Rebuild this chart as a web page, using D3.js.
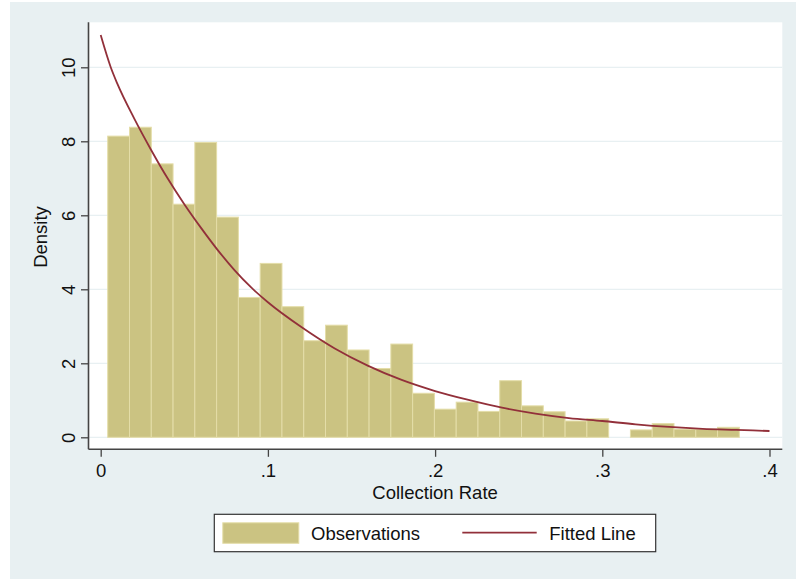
<!DOCTYPE html>
<html>
<head>
<meta charset="utf-8">
<script src="https://cdn.jsdelivr.net/npm/d3@7"></script>
<style>
  html, body { margin: 0; padding: 0; background: #ffffff; }
  svg { display: block; }
  text { font-family: "Liberation Sans", Arial, Helvetica, sans-serif; fill: #111; }
</style>
</head>
<body>
<svg id="chart" width="796" height="579"></svg>
<script>
// ---------- data ----------
const binStart = 0.0042;      // lower edge of first bin
const binWidth = 0.013026;    // bin width
const densities = [8.14, 8.38, 7.39, 6.30, 7.97, 5.95, 3.78, 4.70, 3.53, 2.61,
                   3.03, 2.36, 1.86, 2.52, 1.19, 0.76, 0.95, 0.70, 1.53, 0.85,
                   0.69, 0.44, 0.50, 0.00, 0.20, 0.37, 0.22, 0.22, 0.27];
const fitX = [0, 0.006, 0.01, 0.02, 0.03, 0.04, 0.05, 0.06, 0.07, 0.08, 0.09, 0.10,
              0.12, 0.14, 0.16, 0.18, 0.20, 0.22, 0.24, 0.26, 0.28, 0.30, 0.32,
              0.34, 0.36, 0.38, 0.40];
const fitY = [10.87, 10.0, 9.55, 8.62, 7.78, 7.0, 6.3, 5.66, 5.06, 4.52, 4.05, 3.65,
              2.98, 2.40, 1.93, 1.55, 1.25, 1.01, 0.80, 0.64, 0.52, 0.44, 0.35,
              0.28, 0.23, 0.20, 0.17];
const xTicks = [0, 0.1, 0.2, 0.3, 0.4];
const xTickLabels = ["0", ".1", ".2", ".3", ".4"];
const yTicks = [0, 2, 4, 6, 8, 10];
const yTickLabels = ["0", "2", "4", "6", "8", "10"];
const legendLabels = ["Observations", "Fitted Line"];
const xTitle = "Collection Rate";
const yTitle = "Density";

// ---------- style / layout ----------
const W = 796, H = 579;
const bgColor = "#e8f0f2";
const barFill = "#cbc382";
const barStroke = "#e4dda8";
const lineColor = "#92303a";
const gridColor = "#e8f0f2";
const axisColor = "#444";
const fontSize = 18.5;

const plot = { left: 88.5, right: 782.3, top: 22.3, bottom: 449.3 };

const svg = d3.select("#chart");
svg.append("rect").attr("x", 0).attr("y", 0).attr("width", W).attr("height", H).attr("fill", "#fff");
svg.append("rect").attr("x", 10).attr("y", 2).attr("width", W - 10).attr("height", H - 2).attr("fill", bgColor);
svg.append("rect").attr("x", plot.left).attr("y", plot.top)
   .attr("width", plot.right - plot.left).attr("height", plot.bottom - plot.top).attr("fill", "#fff");

const x = d3.scaleLinear().domain([0, 0.4]).range([100.7, 769.5]);
const y = d3.scaleLinear().domain([0, 10]).range([437.3, 67.3]);

// grid lines
svg.append("g").selectAll("line").data(yTicks).join("line")
  .attr("x1", plot.left).attr("x2", plot.right)
  .attr("y1", d => y(d)).attr("y2", d => y(d))
  .attr("stroke", gridColor).attr("stroke-width", 1.2);

// bars
const bins = densities.map((v, i) => ({ x0: binStart + i * binWidth, x1: binStart + (i + 1) * binWidth, v }));
svg.append("g").selectAll("rect").data(bins.filter(b => b.v > 0)).join("rect")
  .attr("x", d => x(d.x0)).attr("width", d => x(d.x1) - x(d.x0))
  .attr("y", d => y(d.v)).attr("height", d => y(0) - y(d.v))
  .attr("fill", barFill).attr("stroke", barStroke).attr("stroke-width", 1);

// fitted line
const line = d3.line().x((d, i) => x(fitX[i])).y(d => y(d)).curve(d3.curveMonotoneX);
svg.append("path").datum(fitY).attr("d", line)
  .attr("fill", "none").attr("stroke", lineColor).attr("stroke-width", 1.8);

// x axis
const xAxis = svg.append("g").attr("transform", `translate(0,${plot.bottom})`)
  .call(d3.axisBottom(x).tickValues(xTicks).tickFormat((d, i) => xTickLabels[i]).tickSize(7.5).tickSizeOuter(0));
xAxis.select(".domain").remove();
xAxis.selectAll(".tick line").attr("stroke", axisColor).attr("stroke-width", 1.3);
xAxis.selectAll(".tick text").attr("font-size", fontSize).attr("font-family", null)
  .attr("y", 0).attr("dy", 0).attr("transform", "translate(0,27.5)").attr("fill", "#111");
svg.append("line").attr("x1", plot.left).attr("x2", plot.right)
  .attr("y1", plot.bottom).attr("y2", plot.bottom).attr("stroke", axisColor).attr("stroke-width", 1.6);

// y axis
const yAxis = svg.append("g").attr("transform", `translate(${plot.left},0)`)
  .call(d3.axisLeft(y).tickValues(yTicks).tickFormat((d, i) => yTickLabels[i]).tickSize(7.5).tickSizeOuter(0));
yAxis.select(".domain").remove();
yAxis.selectAll(".tick line").attr("stroke", axisColor).attr("stroke-width", 1.3);
yAxis.selectAll(".tick text").attr("font-size", fontSize).attr("font-family", null)
  .attr("x", 0).attr("dy", 0).attr("text-anchor", "middle")
  .attr("transform", "translate(-13.5,0) rotate(-90)").attr("fill", "#111");
svg.append("line").attr("x1", plot.left).attr("x2", plot.left)
  .attr("y1", plot.top).attr("y2", plot.bottom).attr("stroke", axisColor).attr("stroke-width", 1.6);

// axis titles
svg.append("text").attr("x", x(0.2)).attr("y", 499).attr("text-anchor", "middle")
  .attr("font-size", fontSize).text(xTitle);
svg.append("text").attr("transform", `translate(47,237) rotate(-90)`).attr("text-anchor", "middle")
  .attr("font-size", fontSize).text(yTitle);

// legend
const lg = svg.append("g");
lg.append("rect").attr("x", 214.3).attr("y", 514.3).attr("width", 441.4).attr("height", 37.4)
  .attr("fill", "#fff").attr("stroke", "#333").attr("stroke-width", 1.2);
lg.append("rect").attr("x", 222.8).attr("y", 522.8).attr("width", 76).attr("height", 20.5)
  .attr("fill", barFill).attr("stroke", barStroke).attr("stroke-width", 1);
lg.append("text").attr("x", 311).attr("y", 540).attr("font-size", fontSize).text(legendLabels[0]);
lg.append("line").attr("x1", 462.3).attr("x2", 536.7).attr("y1", 532.7).attr("y2", 532.7)
  .attr("stroke", lineColor).attr("stroke-width", 1.8);
lg.append("text").attr("x", 549.3).attr("y", 540).attr("font-size", fontSize).text(legendLabels[1]);
</script>
</body>
</html>
